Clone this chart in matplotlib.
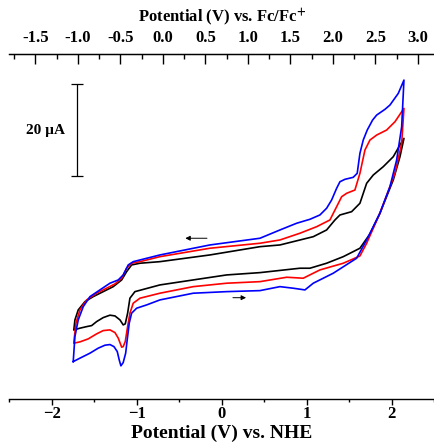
import matplotlib
matplotlib.use('Agg')
import matplotlib.pyplot as plt
from matplotlib.ticker import MultipleLocator

plt.rcParams['font.family'] = ['Liberation Serif', 'DejaVu Serif']
plt.rcParams['font.weight'] = 'bold'
plt.rcParams['mathtext.fontset'] = 'stix'

# offset between the two potential scales (V): E(Fc/Fc+) = E(NHE) + fc_offset
fc_offset = 0.69

# potential (V vs NHE) and current (uA); each loop: forward scan then reverse scan
black_v = [-1.738, -1.667, -1.588, -1.529, -1.471, -1.393, -1.314, -1.255, -1.196, -1.158,
           -1.134, -1.106, -1.079, -1.020, -0.726, -0.334, 0.059, 0.451, 0.921, 1.039,
           1.235, 1.431, 1.627, 1.745, 1.862, 2.019, 2.098, 2.145,
           2.098, 2.019, 1.901, 1.784, 1.706, 1.627, 1.529, 1.392, 1.333, 1.235,
           1.078, 0.686, 0.451, -0.138, -0.726, -0.961, -1.059, -1.118, -1.176, -1.275,
           -1.393, -1.511, -1.608, -1.687, -1.726, -1.738]
black_i = [-12.96, -12.59, -12.25, -12.03, -11.17, -10.30, -9.78, -9.94, -10.80, -11.88,
           -11.66, -9.35, -6.11, -4.69, -3.24, -2.16, -1.08, -0.58, 0.37, 0.37,
           1.45, 2.87, 4.69, 7.78, 12.25, 19.44, 24.47, 28.44,
           27.0, 24.47, 22.31, 20.52, 18.73, 14.41, 12.59, 11.88, 10.80, 8.64,
           7.19, 5.40, 5.03, 3.24, 1.79, 1.45, 1.08, -0.37, -2.16, -3.61,
           -4.69, -5.77, -6.85, -8.64, -10.80, -12.81]

red_v = [-1.738, -1.667, -1.569, -1.471, -1.393, -1.314, -1.255, -1.216, -1.176, -1.158,
         -1.134, -1.106, -1.079, -1.040, -0.961, -0.726, -0.334, 0.059, 0.451, 0.765,
         0.960, 1.156, 1.431, 1.627, 1.706, 1.862, 2.039, 2.118, 2.145,
         2.118, 2.039, 1.941, 1.824, 1.745, 1.686, 1.627, 1.568, 1.471, 1.412,
         1.353, 1.274, 1.118, 0.921, 0.686, 0.451, -0.138, -0.726, -0.961, -1.059,
         -1.118, -1.176, -1.255, -1.353, -1.471, -1.588, -1.667, -1.714, -1.738]
red_i = [-15.83, -15.55, -14.90, -13.82, -13.11, -12.96, -13.54, -14.75, -16.70, -16.57,
         -15.49, -12.25, -9.35, -7.19, -6.11, -5.03, -3.61, -2.87, -2.53, -1.58,
         -1.79, 0.0, 1.45, 3.02, 5.77, 12.25, 20.89, 27.36, 34.92,
         34.19, 32.03, 30.24, 29.16, 28.08, 25.92, 20.89, 17.28, 16.57, 15.83,
         13.67, 10.80, 9.35, 7.93, 6.48, 5.77, 4.69, 2.87, 1.79, 1.45,
         0.37, -1.79, -3.02, -3.95, -5.03, -6.48, -8.64, -11.51, -15.49]

blue_v = [-1.746, -1.667, -1.549, -1.452, -1.373, -1.314, -1.267, -1.228, -1.205, -1.185,
          -1.158, -1.129, -1.111, -1.087, -1.059, -1.0, -0.882, -0.726, -0.334, 0.059,
          0.451, 0.686, 0.842, 0.980, 1.078, 1.313, 1.588, 1.706, 1.862, 1.980,
          2.059, 2.118, 2.145,
          2.078, 1.980, 1.921, 1.824, 1.776, 1.713, 1.666, 1.627, 1.595, 1.548,
          1.451, 1.392, 1.353, 1.294, 1.235, 1.156, 1.039, 0.882, 0.686, 0.451,
          -0.138, -0.726, -1.040, -1.099, -1.158, -1.216, -1.314, -1.432, -1.549, -1.628,
          -1.687, -1.726, -1.746]
blue_i = [-19.81, -19.07, -17.99, -16.91, -16.27, -16.13, -16.57, -17.64, -19.44, -20.73,
          -20.02, -17.99, -15.12, -11.51, -9.35, -8.27, -7.56, -6.48, -5.03, -4.69,
          -4.47, -3.61, -3.95, -4.32, -2.87, -0.71, 2.53, 6.48, 12.25, 17.99,
          23.76, 30.95, 41.04,
          38.16, 35.64, 34.71, 33.48, 32.40, 30.24, 28.08, 25.21, 20.89, 20.02,
          19.59, 19.07, 17.65, 15.12, 13.33, 11.88, 10.95, 10.09, 8.64, 6.85,
          5.40, 3.24, 1.79, 1.08, -1.08, -2.16, -2.87, -4.32, -5.77, -7.93,
          -10.80, -14.41, -19.81]

# scale bar (uA) and scan-direction arrows (V, uA)
bar_x = -1.706
bar_lo, bar_hi = 20.2, 40.2
arrow_top = (-0.14, -0.46, 6.85)
arrow_bottom = (0.10, 0.32, -6.0)

fig = plt.figure(figsize=(4.35, 4.43), dpi=100)
ax = fig.add_axes([0.021, 0.0993, 0.977, 0.778])

ax.plot(black_v, black_i, color='black', lw=1.2)
ax.plot(red_v, red_i, color='#ff0000', lw=1.2)
ax.plot(blue_v, blue_i, color='#0000ff', lw=1.2)

# scale bar
ax.errorbar([bar_x], [(bar_lo + bar_hi) / 2], yerr=[(bar_hi - bar_lo) / 2],
            color='black', lw=0.9, capsize=4.5, capthick=0.9)
ax.text(bar_x - 0.14, (bar_lo + bar_hi) / 2, '20 \u00b5A', ha='right', va='center',
        fontsize=11, fontweight='bold')

for x0, x1, y in [arrow_top, arrow_bottom]:
    ax.annotate('', xy=(x1, y), xytext=(x0, y),
                arrowprops=dict(arrowstyle='-|>', color='black', lw=0.7,
                                mutation_scale=7))

ax.set_xlim(-2.5, 2.5)
ax.set_ylim(-27.9, 46.6)
ax.set_yticks([])
ax.spines['left'].set_visible(False)
ax.spines['right'].set_visible(False)
ax.spines['top'].set_linewidth(1.0)
ax.spines['bottom'].set_linewidth(1.0)

ax.xaxis.set_major_locator(MultipleLocator(1))
ax.xaxis.set_minor_locator(MultipleLocator(0.5))
ax.tick_params(axis='x', which='major', direction='out', length=4, width=1,
               labelsize=12, pad=1)
ax.tick_params(axis='x', which='minor', direction='out', length=2.5, width=1)
ax.set_xlabel('Potential (V) vs. NHE', fontsize=14, fontweight='bold', labelpad=2)

sec = ax.secondary_xaxis('top', functions=(lambda x: x + fc_offset,
                                           lambda x: x - fc_offset))
sec.set_xticks([-1.5, -1.0, -0.5, 0.0, 0.5, 1.0, 1.5, 2.0, 2.5, 3.0])
sec.set_xticklabels(['-1.5', '-1.0', '-0.5', '0.0', '0.5', '1.0', '1.5', '2.0', '2.5', '3.0'])
sec.xaxis.set_minor_locator(MultipleLocator(0.25))
sec.tick_params(axis='x', which='major', direction='in', length=7, width=1,
                labelsize=12, pad=6)
sec.tick_params(axis='x', which='minor', direction='in', length=3.5, width=1)
sec.set_xlabel(r'Potential (V) vs. Fc/Fc$^{+}$', fontsize=12, fontweight='bold', labelpad=6)

fig.savefig('out.png', dpi=100)
